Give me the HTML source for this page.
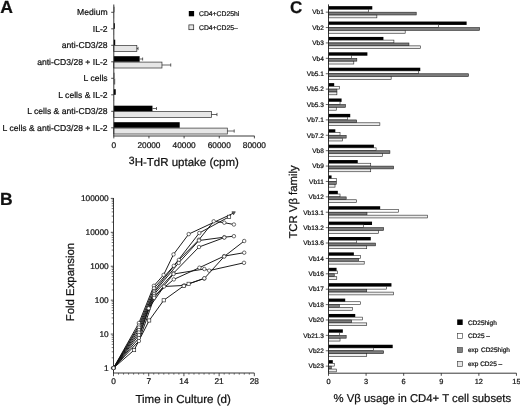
<!DOCTYPE html><html><head><meta charset="utf-8"><title>Figure</title>
<style>html,body{margin:0;padding:0;background:#fff}svg{display:block}text{text-rendering:geometricPrecision;stroke:#111;stroke-width:0.22px;font-family:"Liberation Sans",Arial,Helvetica,sans-serif;fill:#111}</style></head><body>
<svg width="520" height="407" viewBox="0 0 520 407">
<rect width="520" height="407" fill="#fff"/>
<text x="0.30" y="12.80" font-size="17.6" text-anchor="start" font-weight="bold" >A</text>
<text x="0.00" y="204.80" font-size="17.5" text-anchor="start" font-weight="bold" >B</text>
<text x="289.90" y="12.70" font-size="17" text-anchor="start" font-weight="bold" >C</text>
<text x="107.60" y="15.30" font-size="8.6" text-anchor="end" font-weight="normal" >Medium</text>
<line x1="111.20" y1="12.30" x2="113.80" y2="12.30" stroke="#222" stroke-width="0.8"/>
<rect x="113.80" y="6.70" width="0.53" height="5.60" fill="#000"/>
<rect x="113.80" y="12.60" width="0.26" height="5.90" fill="#777"/>
<text x="107.60" y="31.80" font-size="8.6" text-anchor="end" font-weight="normal" >IL-2</text>
<line x1="111.20" y1="28.80" x2="113.80" y2="28.80" stroke="#222" stroke-width="0.8"/>
<rect x="113.80" y="23.20" width="1.05" height="5.60" fill="#000"/>
<rect x="113.80" y="29.10" width="0.26" height="5.90" fill="#777"/>
<text x="107.60" y="48.30" font-size="8.6" text-anchor="end" font-weight="normal" >anti-CD3/28</text>
<line x1="111.20" y1="45.30" x2="113.80" y2="45.30" stroke="#222" stroke-width="0.8"/>
<rect x="113.80" y="39.70" width="1.41" height="5.60" fill="#000"/>
<rect x="113.80" y="45.60" width="23.02" height="5.90" fill="#e6e6e6" stroke="#3a3a3a" stroke-width="0.75"/>
<line x1="136.82" y1="48.50" x2="138.05" y2="48.50" stroke="#222" stroke-width="0.7"/>
<line x1="138.05" y1="46.90" x2="138.05" y2="50.10" stroke="#222" stroke-width="0.7"/>
<text x="107.60" y="64.80" font-size="8.6" text-anchor="end" font-weight="normal" >anti-CD3/28 + IL-2</text>
<line x1="111.20" y1="61.80" x2="113.80" y2="61.80" stroke="#222" stroke-width="0.8"/>
<rect x="113.80" y="56.20" width="25.84" height="5.60" fill="#000"/>
<line x1="139.64" y1="59.00" x2="142.62" y2="59.00" stroke="#222" stroke-width="0.7"/>
<line x1="142.62" y1="57.50" x2="142.62" y2="60.50" stroke="#222" stroke-width="0.7"/>
<rect x="113.80" y="62.10" width="48.16" height="5.90" fill="#e6e6e6" stroke="#3a3a3a" stroke-width="0.75"/>
<line x1="161.96" y1="65.00" x2="170.74" y2="65.00" stroke="#222" stroke-width="0.7"/>
<line x1="170.74" y1="63.40" x2="170.74" y2="66.60" stroke="#222" stroke-width="0.7"/>
<text x="107.60" y="81.30" font-size="8.6" text-anchor="end" font-weight="normal" >L cells</text>
<line x1="111.20" y1="78.30" x2="113.80" y2="78.30" stroke="#222" stroke-width="0.8"/>
<rect x="113.80" y="72.70" width="0.53" height="5.60" fill="#000"/>
<rect x="113.80" y="78.60" width="1.41" height="5.90" fill="#777"/>
<text x="107.60" y="97.80" font-size="8.6" text-anchor="end" font-weight="normal" >L cells &amp; IL-2</text>
<line x1="111.20" y1="94.80" x2="113.80" y2="94.80" stroke="#222" stroke-width="0.8"/>
<rect x="113.80" y="89.20" width="1.93" height="5.60" fill="#000"/>
<rect x="113.80" y="95.10" width="0.26" height="5.90" fill="#777"/>
<text x="107.60" y="114.30" font-size="8.6" text-anchor="end" font-weight="normal" >L cells &amp; anti-CD3/28</text>
<line x1="111.20" y1="111.30" x2="113.80" y2="111.30" stroke="#222" stroke-width="0.8"/>
<rect x="113.80" y="105.70" width="38.66" height="5.60" fill="#000"/>
<line x1="152.47" y1="108.50" x2="156.51" y2="108.50" stroke="#222" stroke-width="0.7"/>
<line x1="156.51" y1="107.00" x2="156.51" y2="110.00" stroke="#222" stroke-width="0.7"/>
<rect x="113.80" y="111.60" width="97.72" height="5.90" fill="#e6e6e6" stroke="#3a3a3a" stroke-width="0.75"/>
<line x1="211.52" y1="114.50" x2="216.97" y2="114.50" stroke="#222" stroke-width="0.7"/>
<line x1="216.97" y1="112.90" x2="216.97" y2="116.10" stroke="#222" stroke-width="0.7"/>
<text x="107.60" y="130.80" font-size="8.6" text-anchor="end" font-weight="normal" >L cells &amp; anti-CD3/28 + IL-2</text>
<line x1="111.20" y1="127.80" x2="113.80" y2="127.80" stroke="#222" stroke-width="0.8"/>
<rect x="113.80" y="122.20" width="65.91" height="5.60" fill="#000"/>
<rect x="113.80" y="128.10" width="113.53" height="5.90" fill="#e6e6e6" stroke="#3a3a3a" stroke-width="0.75"/>
<line x1="227.33" y1="131.00" x2="234.19" y2="131.00" stroke="#222" stroke-width="0.7"/>
<line x1="234.19" y1="129.40" x2="234.19" y2="132.60" stroke="#222" stroke-width="0.7"/>
<line x1="113.80" y1="4.50" x2="113.80" y2="136.00" stroke="#222" stroke-width="0.9"/>
<line x1="113.35" y1="136.00" x2="254.60" y2="136.00" stroke="#222" stroke-width="0.9"/>
<line x1="113.80" y1="136.00" x2="113.80" y2="138.40" stroke="#222" stroke-width="0.8"/>
<text x="113.80" y="147.90" font-size="8.3" text-anchor="middle" font-weight="normal" >0</text>
<line x1="148.95" y1="136.00" x2="148.95" y2="138.40" stroke="#222" stroke-width="0.8"/>
<text x="148.95" y="147.90" font-size="8.3" text-anchor="middle" font-weight="normal" >20000</text>
<line x1="184.10" y1="136.00" x2="184.10" y2="138.40" stroke="#222" stroke-width="0.8"/>
<text x="184.10" y="147.90" font-size="8.3" text-anchor="middle" font-weight="normal" >40000</text>
<line x1="219.25" y1="136.00" x2="219.25" y2="138.40" stroke="#222" stroke-width="0.8"/>
<text x="219.25" y="147.90" font-size="8.3" text-anchor="middle" font-weight="normal" >60000</text>
<line x1="254.40" y1="136.00" x2="254.40" y2="138.40" stroke="#222" stroke-width="0.8"/>
<text x="254.40" y="147.90" font-size="8.3" text-anchor="middle" font-weight="normal" >80000</text>
<text x="128.8" y="166.2" font-size="11.5"><tspan font-size="10.5" dy="-2.2">3</tspan><tspan dy="2.2">H-TdR uptake (cpm)</tspan></text>
<rect x="188.80" y="11.00" width="5.30" height="5.30" fill="#000"/>
<text x="199.00" y="16.40" font-size="6.8" text-anchor="start" font-weight="normal" >CD4+CD25hi</text>
<rect x="188.90" y="24.90" width="4.80" height="4.80" fill="#e6e6e6" stroke="#222" stroke-width="0.7"/>
<text x="199.00" y="29.90" font-size="6.8" text-anchor="start" font-weight="normal" >CD4+CD25–</text>
<line x1="113.50" y1="198.00" x2="113.50" y2="373.00" stroke="#222" stroke-width="0.9"/>
<line x1="113.05" y1="373.00" x2="254.34" y2="373.00" stroke="#222" stroke-width="0.9"/>
<line x1="110.80" y1="368.00" x2="113.50" y2="368.00" stroke="#222" stroke-width="0.8"/>
<text x="108.70" y="370.60" font-size="8.3" text-anchor="end" font-weight="normal" >1</text>
<line x1="111.70" y1="357.79" x2="113.50" y2="357.79" stroke="#222" stroke-width="0.6"/>
<line x1="111.70" y1="351.82" x2="113.50" y2="351.82" stroke="#222" stroke-width="0.6"/>
<line x1="111.70" y1="347.58" x2="113.50" y2="347.58" stroke="#222" stroke-width="0.6"/>
<line x1="111.70" y1="344.29" x2="113.50" y2="344.29" stroke="#222" stroke-width="0.6"/>
<line x1="111.70" y1="341.61" x2="113.50" y2="341.61" stroke="#222" stroke-width="0.6"/>
<line x1="111.70" y1="339.33" x2="113.50" y2="339.33" stroke="#222" stroke-width="0.6"/>
<line x1="111.70" y1="337.37" x2="113.50" y2="337.37" stroke="#222" stroke-width="0.6"/>
<line x1="111.70" y1="335.63" x2="113.50" y2="335.63" stroke="#222" stroke-width="0.6"/>
<line x1="110.80" y1="334.08" x2="113.50" y2="334.08" stroke="#222" stroke-width="0.8"/>
<text x="108.70" y="336.68" font-size="8.3" text-anchor="end" font-weight="normal" >10</text>
<line x1="111.70" y1="323.87" x2="113.50" y2="323.87" stroke="#222" stroke-width="0.6"/>
<line x1="111.70" y1="317.90" x2="113.50" y2="317.90" stroke="#222" stroke-width="0.6"/>
<line x1="111.70" y1="313.66" x2="113.50" y2="313.66" stroke="#222" stroke-width="0.6"/>
<line x1="111.70" y1="310.37" x2="113.50" y2="310.37" stroke="#222" stroke-width="0.6"/>
<line x1="111.70" y1="307.69" x2="113.50" y2="307.69" stroke="#222" stroke-width="0.6"/>
<line x1="111.70" y1="305.41" x2="113.50" y2="305.41" stroke="#222" stroke-width="0.6"/>
<line x1="111.70" y1="303.45" x2="113.50" y2="303.45" stroke="#222" stroke-width="0.6"/>
<line x1="111.70" y1="301.71" x2="113.50" y2="301.71" stroke="#222" stroke-width="0.6"/>
<line x1="110.80" y1="300.16" x2="113.50" y2="300.16" stroke="#222" stroke-width="0.8"/>
<text x="108.70" y="302.76" font-size="8.3" text-anchor="end" font-weight="normal" >100</text>
<line x1="111.70" y1="289.95" x2="113.50" y2="289.95" stroke="#222" stroke-width="0.6"/>
<line x1="111.70" y1="283.98" x2="113.50" y2="283.98" stroke="#222" stroke-width="0.6"/>
<line x1="111.70" y1="279.74" x2="113.50" y2="279.74" stroke="#222" stroke-width="0.6"/>
<line x1="111.70" y1="276.45" x2="113.50" y2="276.45" stroke="#222" stroke-width="0.6"/>
<line x1="111.70" y1="273.77" x2="113.50" y2="273.77" stroke="#222" stroke-width="0.6"/>
<line x1="111.70" y1="271.49" x2="113.50" y2="271.49" stroke="#222" stroke-width="0.6"/>
<line x1="111.70" y1="269.53" x2="113.50" y2="269.53" stroke="#222" stroke-width="0.6"/>
<line x1="111.70" y1="267.79" x2="113.50" y2="267.79" stroke="#222" stroke-width="0.6"/>
<line x1="110.80" y1="266.24" x2="113.50" y2="266.24" stroke="#222" stroke-width="0.8"/>
<text x="108.70" y="268.84" font-size="8.3" text-anchor="end" font-weight="normal" >1000</text>
<line x1="111.70" y1="256.03" x2="113.50" y2="256.03" stroke="#222" stroke-width="0.6"/>
<line x1="111.70" y1="250.06" x2="113.50" y2="250.06" stroke="#222" stroke-width="0.6"/>
<line x1="111.70" y1="245.82" x2="113.50" y2="245.82" stroke="#222" stroke-width="0.6"/>
<line x1="111.70" y1="242.53" x2="113.50" y2="242.53" stroke="#222" stroke-width="0.6"/>
<line x1="111.70" y1="239.85" x2="113.50" y2="239.85" stroke="#222" stroke-width="0.6"/>
<line x1="111.70" y1="237.57" x2="113.50" y2="237.57" stroke="#222" stroke-width="0.6"/>
<line x1="111.70" y1="235.61" x2="113.50" y2="235.61" stroke="#222" stroke-width="0.6"/>
<line x1="111.70" y1="233.87" x2="113.50" y2="233.87" stroke="#222" stroke-width="0.6"/>
<line x1="110.80" y1="232.32" x2="113.50" y2="232.32" stroke="#222" stroke-width="0.8"/>
<text x="108.70" y="234.92" font-size="8.3" text-anchor="end" font-weight="normal" >10000</text>
<line x1="111.70" y1="222.11" x2="113.50" y2="222.11" stroke="#222" stroke-width="0.6"/>
<line x1="111.70" y1="216.14" x2="113.50" y2="216.14" stroke="#222" stroke-width="0.6"/>
<line x1="111.70" y1="211.90" x2="113.50" y2="211.90" stroke="#222" stroke-width="0.6"/>
<line x1="111.70" y1="208.61" x2="113.50" y2="208.61" stroke="#222" stroke-width="0.6"/>
<line x1="111.70" y1="205.93" x2="113.50" y2="205.93" stroke="#222" stroke-width="0.6"/>
<line x1="111.70" y1="203.65" x2="113.50" y2="203.65" stroke="#222" stroke-width="0.6"/>
<line x1="111.70" y1="201.69" x2="113.50" y2="201.69" stroke="#222" stroke-width="0.6"/>
<line x1="111.70" y1="199.95" x2="113.50" y2="199.95" stroke="#222" stroke-width="0.6"/>
<line x1="110.80" y1="198.40" x2="113.50" y2="198.40" stroke="#222" stroke-width="0.8"/>
<text x="108.70" y="201.00" font-size="8.3" text-anchor="end" font-weight="normal" >100000</text>
<line x1="113.50" y1="373.00" x2="113.50" y2="376.20" stroke="#222" stroke-width="0.8"/>
<text x="113.50" y="384.10" font-size="8.3" text-anchor="middle" font-weight="normal" >0</text>
<line x1="118.53" y1="373.00" x2="118.53" y2="374.70" stroke="#222" stroke-width="0.6"/>
<line x1="123.56" y1="373.00" x2="123.56" y2="374.70" stroke="#222" stroke-width="0.6"/>
<line x1="128.59" y1="373.00" x2="128.59" y2="374.70" stroke="#222" stroke-width="0.6"/>
<line x1="133.62" y1="373.00" x2="133.62" y2="374.70" stroke="#222" stroke-width="0.6"/>
<line x1="138.65" y1="373.00" x2="138.65" y2="374.70" stroke="#222" stroke-width="0.6"/>
<line x1="143.68" y1="373.00" x2="143.68" y2="374.70" stroke="#222" stroke-width="0.6"/>
<line x1="148.71" y1="373.00" x2="148.71" y2="376.20" stroke="#222" stroke-width="0.8"/>
<text x="148.71" y="384.10" font-size="8.3" text-anchor="middle" font-weight="normal" >7</text>
<line x1="153.74" y1="373.00" x2="153.74" y2="374.70" stroke="#222" stroke-width="0.6"/>
<line x1="158.77" y1="373.00" x2="158.77" y2="374.70" stroke="#222" stroke-width="0.6"/>
<line x1="163.80" y1="373.00" x2="163.80" y2="374.70" stroke="#222" stroke-width="0.6"/>
<line x1="168.83" y1="373.00" x2="168.83" y2="374.70" stroke="#222" stroke-width="0.6"/>
<line x1="173.86" y1="373.00" x2="173.86" y2="374.70" stroke="#222" stroke-width="0.6"/>
<line x1="178.89" y1="373.00" x2="178.89" y2="374.70" stroke="#222" stroke-width="0.6"/>
<line x1="183.92" y1="373.00" x2="183.92" y2="376.20" stroke="#222" stroke-width="0.8"/>
<text x="183.92" y="384.10" font-size="8.3" text-anchor="middle" font-weight="normal" >14</text>
<line x1="188.95" y1="373.00" x2="188.95" y2="374.70" stroke="#222" stroke-width="0.6"/>
<line x1="193.98" y1="373.00" x2="193.98" y2="374.70" stroke="#222" stroke-width="0.6"/>
<line x1="199.01" y1="373.00" x2="199.01" y2="374.70" stroke="#222" stroke-width="0.6"/>
<line x1="204.04" y1="373.00" x2="204.04" y2="374.70" stroke="#222" stroke-width="0.6"/>
<line x1="209.07" y1="373.00" x2="209.07" y2="374.70" stroke="#222" stroke-width="0.6"/>
<line x1="214.10" y1="373.00" x2="214.10" y2="374.70" stroke="#222" stroke-width="0.6"/>
<line x1="219.13" y1="373.00" x2="219.13" y2="376.20" stroke="#222" stroke-width="0.8"/>
<text x="219.13" y="384.10" font-size="8.3" text-anchor="middle" font-weight="normal" >21</text>
<line x1="224.16" y1="373.00" x2="224.16" y2="374.70" stroke="#222" stroke-width="0.6"/>
<line x1="229.19" y1="373.00" x2="229.19" y2="374.70" stroke="#222" stroke-width="0.6"/>
<line x1="234.22" y1="373.00" x2="234.22" y2="374.70" stroke="#222" stroke-width="0.6"/>
<line x1="239.25" y1="373.00" x2="239.25" y2="374.70" stroke="#222" stroke-width="0.6"/>
<line x1="244.28" y1="373.00" x2="244.28" y2="374.70" stroke="#222" stroke-width="0.6"/>
<line x1="249.31" y1="373.00" x2="249.31" y2="374.70" stroke="#222" stroke-width="0.6"/>
<line x1="254.34" y1="373.00" x2="254.34" y2="376.20" stroke="#222" stroke-width="0.8"/>
<text x="254.34" y="384.10" font-size="8.3" text-anchor="middle" font-weight="normal" >28</text>
<text x="135.40" y="402.70" font-size="11.58" text-anchor="start" font-weight="normal" >Time in Culture (d)</text>
<text transform="translate(74.3,321.2) rotate(-90)" font-size="11.36">Fold Expansion</text>
<polyline fill="none" stroke="#111" stroke-width="0.95" points="113.5,368.0 138.9,323.0 153.9,285.8 163.6,274.9 173.5,254.4 188.7,234.1 233.6,213.1"/>
<polyline fill="none" stroke="#111" stroke-width="0.95" points="113.5,368.0 138.9,325.5 154.0,288.3 173.8,265.8 199.3,233.0 229.1,216.8"/>
<polyline fill="none" stroke="#111" stroke-width="0.95" points="113.5,368.0 138.9,327.5 154.1,291.0 178.9,259.9 199.0,239.7 213.7,221.3 224.3,222.7 233.9,224.5"/>
<polyline fill="none" stroke="#111" stroke-width="0.95" points="113.5,368.0 138.9,330.0 154.1,292.5 178.7,262.9 199.0,240.5 224.3,237.2 233.9,236.2"/>
<polyline fill="none" stroke="#111" stroke-width="0.95" points="113.5,368.0 138.9,332.5 154.1,294.1 173.5,273.2 199.0,247.0 224.3,237.6"/>
<polyline fill="none" stroke="#111" stroke-width="0.95" points="113.5,368.0 138.9,335.0 154.1,296.0 173.8,279.4 199.4,267.7 224.2,256.1 244.2,252.7"/>
<polyline fill="none" stroke="#111" stroke-width="0.95" points="113.5,368.0 138.9,338.0 148.7,308.3 164.0,286.5 184.3,285.4 204.3,278.5 224.2,256.5 244.2,241.0"/>
<polyline fill="none" stroke="#111" stroke-width="0.95" points="113.5,368.0 138.9,341.0 154.1,297.8 173.5,274.0 204.3,269.0 209.2,270.6 244.0,262.8"/>
<polyline fill="none" stroke="#111" stroke-width="0.95" points="113.5,368.0 134.1,350.1 149.2,320.5 163.7,300.3 183.7,285.9 188.6,283.8 204.3,278.3"/>
<circle cx="113.5" cy="368.0" r="1.75" fill="#fff" stroke="#222" stroke-width="0.65"/>
<circle cx="138.9" cy="323.0" r="1.75" fill="#fff" stroke="#222" stroke-width="0.65"/>
<circle cx="153.9" cy="285.8" r="1.75" fill="#fff" stroke="#222" stroke-width="0.65"/>
<circle cx="163.6" cy="274.9" r="1.75" fill="#fff" stroke="#222" stroke-width="0.65"/>
<circle cx="173.5" cy="254.4" r="1.75" fill="#fff" stroke="#222" stroke-width="0.65"/>
<circle cx="188.7" cy="234.1" r="1.75" fill="#fff" stroke="#222" stroke-width="0.65"/>
<path d="M231.9 211.8h3.4l-1.7 2.9z" fill="#666" stroke="#222" stroke-width="0.65"/>
<circle cx="113.5" cy="368.0" r="1.75" fill="#fff" stroke="#222" stroke-width="0.65"/>
<circle cx="138.9" cy="325.5" r="1.75" fill="#fff" stroke="#222" stroke-width="0.65"/>
<circle cx="154.0" cy="288.3" r="1.75" fill="#fff" stroke="#222" stroke-width="0.65"/>
<circle cx="173.8" cy="265.8" r="1.75" fill="#fff" stroke="#222" stroke-width="0.65"/>
<circle cx="199.3" cy="233.0" r="1.75" fill="#fff" stroke="#222" stroke-width="0.65"/>
<rect x="227.5" y="215.2" width="3.2" height="3.2" fill="#fff" stroke="#222" stroke-width="0.65"/>
<circle cx="113.5" cy="368.0" r="1.75" fill="#fff" stroke="#222" stroke-width="0.65"/>
<circle cx="138.9" cy="327.5" r="1.75" fill="#fff" stroke="#222" stroke-width="0.65"/>
<circle cx="154.1" cy="291.0" r="1.75" fill="#fff" stroke="#222" stroke-width="0.65"/>
<circle cx="178.9" cy="259.9" r="1.75" fill="#fff" stroke="#222" stroke-width="0.65"/>
<circle cx="199.0" cy="239.7" r="1.75" fill="#fff" stroke="#222" stroke-width="0.65"/>
<circle cx="213.7" cy="221.3" r="1.75" fill="#fff" stroke="#222" stroke-width="0.65"/>
<circle cx="224.3" cy="222.7" r="1.75" fill="#fff" stroke="#222" stroke-width="0.65"/>
<circle cx="233.9" cy="224.5" r="1.75" fill="#fff" stroke="#222" stroke-width="0.65"/>
<circle cx="113.5" cy="368.0" r="1.75" fill="#fff" stroke="#222" stroke-width="0.65"/>
<circle cx="138.9" cy="330.0" r="1.75" fill="#fff" stroke="#222" stroke-width="0.65"/>
<circle cx="154.1" cy="292.5" r="1.75" fill="#fff" stroke="#222" stroke-width="0.65"/>
<circle cx="178.7" cy="262.9" r="1.75" fill="#fff" stroke="#222" stroke-width="0.65"/>
<circle cx="199.0" cy="240.5" r="1.75" fill="#fff" stroke="#222" stroke-width="0.65"/>
<circle cx="224.3" cy="237.2" r="1.75" fill="#fff" stroke="#222" stroke-width="0.65"/>
<circle cx="233.9" cy="236.2" r="1.75" fill="#fff" stroke="#222" stroke-width="0.65"/>
<circle cx="113.5" cy="368.0" r="1.75" fill="#fff" stroke="#222" stroke-width="0.65"/>
<circle cx="138.9" cy="332.5" r="1.75" fill="#fff" stroke="#222" stroke-width="0.65"/>
<circle cx="154.1" cy="294.1" r="1.75" fill="#fff" stroke="#222" stroke-width="0.65"/>
<circle cx="173.5" cy="273.2" r="1.75" fill="#fff" stroke="#222" stroke-width="0.65"/>
<circle cx="199.0" cy="247.0" r="1.75" fill="#fff" stroke="#222" stroke-width="0.65"/>
<circle cx="224.3" cy="237.6" r="1.75" fill="#fff" stroke="#222" stroke-width="0.65"/>
<circle cx="113.5" cy="368.0" r="1.75" fill="#fff" stroke="#222" stroke-width="0.65"/>
<circle cx="138.9" cy="335.0" r="1.75" fill="#fff" stroke="#222" stroke-width="0.65"/>
<circle cx="154.1" cy="296.0" r="1.75" fill="#fff" stroke="#222" stroke-width="0.65"/>
<circle cx="173.8" cy="279.4" r="1.75" fill="#fff" stroke="#222" stroke-width="0.65"/>
<circle cx="199.4" cy="267.7" r="1.75" fill="#fff" stroke="#222" stroke-width="0.65"/>
<circle cx="224.2" cy="256.1" r="1.75" fill="#fff" stroke="#222" stroke-width="0.65"/>
<circle cx="244.2" cy="252.7" r="1.75" fill="#fff" stroke="#222" stroke-width="0.65"/>
<circle cx="113.5" cy="368.0" r="1.75" fill="#fff" stroke="#222" stroke-width="0.65"/>
<circle cx="138.9" cy="338.0" r="1.75" fill="#fff" stroke="#222" stroke-width="0.65"/>
<circle cx="148.7" cy="308.3" r="1.75" fill="#fff" stroke="#222" stroke-width="0.65"/>
<circle cx="164.0" cy="286.5" r="1.75" fill="#fff" stroke="#222" stroke-width="0.65"/>
<circle cx="184.3" cy="285.4" r="1.75" fill="#fff" stroke="#222" stroke-width="0.65"/>
<circle cx="204.3" cy="278.5" r="1.75" fill="#fff" stroke="#222" stroke-width="0.65"/>
<circle cx="224.2" cy="256.5" r="1.75" fill="#fff" stroke="#222" stroke-width="0.65"/>
<circle cx="244.2" cy="241.0" r="1.75" fill="#fff" stroke="#222" stroke-width="0.65"/>
<circle cx="113.5" cy="368.0" r="1.75" fill="#fff" stroke="#222" stroke-width="0.65"/>
<circle cx="138.9" cy="341.0" r="1.75" fill="#fff" stroke="#222" stroke-width="0.65"/>
<circle cx="154.1" cy="297.8" r="1.75" fill="#fff" stroke="#222" stroke-width="0.65"/>
<circle cx="173.5" cy="274.0" r="1.75" fill="#fff" stroke="#222" stroke-width="0.65"/>
<circle cx="204.3" cy="269.0" r="1.75" fill="#fff" stroke="#222" stroke-width="0.65"/>
<circle cx="209.2" cy="270.6" r="1.75" fill="#fff" stroke="#222" stroke-width="0.65"/>
<circle cx="244.0" cy="262.8" r="1.75" fill="#fff" stroke="#222" stroke-width="0.65"/>
<circle cx="113.5" cy="368.0" r="1.75" fill="#fff" stroke="#222" stroke-width="0.65"/>
<rect x="132.5" y="348.5" width="3.2" height="3.2" fill="#fff" stroke="#222" stroke-width="0.65"/>
<rect x="147.6" y="318.9" width="3.2" height="3.2" fill="#fff" stroke="#222" stroke-width="0.65"/>
<rect x="162.1" y="298.7" width="3.2" height="3.2" fill="#fff" stroke="#222" stroke-width="0.65"/>
<rect x="182.1" y="284.3" width="3.2" height="3.2" fill="#fff" stroke="#222" stroke-width="0.65"/>
<rect x="187.0" y="282.2" width="3.2" height="3.2" fill="#fff" stroke="#222" stroke-width="0.65"/>
<circle cx="204.3" cy="278.3" r="1.75" fill="#fff" stroke="#222" stroke-width="0.65"/>
<text x="323.80" y="14.45" font-size="6.5" text-anchor="end" font-weight="normal" >Vb1</text>
<line x1="325.80" y1="12.15" x2="328.50" y2="12.15" stroke="#222" stroke-width="0.7"/>
<rect x="328.50" y="6.15" width="43.78" height="3.38" fill="#000"/>
<rect x="328.50" y="9.33" width="39.97" height="2.77" fill="#fff" stroke="#222" stroke-width="0.6"/>
<rect x="328.50" y="12.20" width="87.71" height="2.77" fill="#7c7c7c" stroke="#222" stroke-width="0.6"/>
<rect x="328.50" y="15.08" width="48.37" height="2.77" fill="#ededed" stroke="#222" stroke-width="0.6"/>
<text x="323.80" y="29.84" font-size="6.5" text-anchor="end" font-weight="normal" >Vb2</text>
<line x1="325.80" y1="27.54" x2="328.50" y2="27.54" stroke="#222" stroke-width="0.7"/>
<rect x="328.50" y="21.54" width="138.13" height="3.38" fill="#000"/>
<rect x="328.50" y="24.72" width="110.14" height="2.77" fill="#fff" stroke="#222" stroke-width="0.6"/>
<rect x="328.50" y="27.59" width="151.11" height="2.77" fill="#7c7c7c" stroke="#222" stroke-width="0.6"/>
<rect x="328.50" y="30.47" width="76.68" height="2.77" fill="#ededed" stroke="#222" stroke-width="0.6"/>
<text x="323.80" y="45.23" font-size="6.5" text-anchor="end" font-weight="normal" >Vb3</text>
<line x1="325.80" y1="42.93" x2="328.50" y2="42.93" stroke="#222" stroke-width="0.7"/>
<rect x="328.50" y="36.93" width="54.93" height="3.38" fill="#000"/>
<rect x="328.50" y="40.11" width="65.41" height="2.77" fill="#fff" stroke="#222" stroke-width="0.6"/>
<rect x="328.50" y="42.98" width="80.44" height="2.77" fill="#7c7c7c" stroke="#222" stroke-width="0.6"/>
<rect x="328.50" y="45.86" width="91.84" height="2.77" fill="#ededed" stroke="#222" stroke-width="0.6"/>
<text x="323.80" y="60.62" font-size="6.5" text-anchor="end" font-weight="normal" >Vb4</text>
<line x1="325.80" y1="58.32" x2="328.50" y2="58.32" stroke="#222" stroke-width="0.7"/>
<rect x="328.50" y="52.32" width="38.89" height="3.38" fill="#000"/>
<rect x="328.50" y="55.50" width="22.80" height="2.77" fill="#fff" stroke="#222" stroke-width="0.6"/>
<rect x="328.50" y="58.37" width="28.32" height="2.77" fill="#7c7c7c" stroke="#222" stroke-width="0.6"/>
<rect x="328.50" y="61.25" width="25.31" height="2.77" fill="#ededed" stroke="#222" stroke-width="0.6"/>
<text x="323.80" y="76.01" font-size="6.5" text-anchor="end" font-weight="normal" >Vb5.1</text>
<line x1="325.80" y1="73.71" x2="328.50" y2="73.71" stroke="#222" stroke-width="0.7"/>
<rect x="328.50" y="67.71" width="91.77" height="3.38" fill="#000"/>
<rect x="328.50" y="70.89" width="90.22" height="2.77" fill="#fff" stroke="#222" stroke-width="0.6"/>
<rect x="328.50" y="73.76" width="139.96" height="2.77" fill="#7c7c7c" stroke="#222" stroke-width="0.6"/>
<rect x="328.50" y="76.64" width="62.65" height="2.77" fill="#ededed" stroke="#222" stroke-width="0.6"/>
<text x="323.80" y="91.41" font-size="6.5" text-anchor="end" font-weight="normal" >Vb5.2</text>
<line x1="325.80" y1="89.11" x2="328.50" y2="89.11" stroke="#222" stroke-width="0.7"/>
<rect x="328.50" y="83.11" width="5.69" height="3.38" fill="#000"/>
<rect x="328.50" y="86.28" width="10.78" height="2.77" fill="#fff" stroke="#222" stroke-width="0.6"/>
<rect x="328.50" y="89.16" width="8.40" height="2.77" fill="#7c7c7c" stroke="#222" stroke-width="0.6"/>
<rect x="328.50" y="92.03" width="8.40" height="2.77" fill="#ededed" stroke="#222" stroke-width="0.6"/>
<text x="323.80" y="106.80" font-size="6.5" text-anchor="end" font-weight="normal" >Vb5.3</text>
<line x1="325.80" y1="104.50" x2="328.50" y2="104.50" stroke="#222" stroke-width="0.7"/>
<rect x="328.50" y="98.50" width="13.08" height="3.38" fill="#000"/>
<rect x="328.50" y="101.67" width="11.53" height="2.77" fill="#fff" stroke="#222" stroke-width="0.6"/>
<rect x="328.50" y="104.55" width="16.92" height="2.77" fill="#7c7c7c" stroke="#222" stroke-width="0.6"/>
<rect x="328.50" y="107.42" width="7.77" height="2.77" fill="#ededed" stroke="#222" stroke-width="0.6"/>
<text x="323.80" y="122.19" font-size="6.5" text-anchor="end" font-weight="normal" >Vb7.1</text>
<line x1="325.80" y1="119.89" x2="328.50" y2="119.89" stroke="#222" stroke-width="0.7"/>
<rect x="328.50" y="113.89" width="21.73" height="3.38" fill="#000"/>
<rect x="328.50" y="117.06" width="18.92" height="2.77" fill="#fff" stroke="#222" stroke-width="0.6"/>
<rect x="328.50" y="119.94" width="28.19" height="2.77" fill="#7c7c7c" stroke="#222" stroke-width="0.6"/>
<rect x="328.50" y="122.81" width="51.37" height="2.77" fill="#ededed" stroke="#222" stroke-width="0.6"/>
<text x="323.80" y="137.58" font-size="6.5" text-anchor="end" font-weight="normal" >Vb7.2</text>
<line x1="325.80" y1="135.28" x2="328.50" y2="135.28" stroke="#222" stroke-width="0.7"/>
<rect x="328.50" y="129.28" width="6.82" height="3.38" fill="#000"/>
<rect x="328.50" y="132.45" width="11.53" height="2.77" fill="#fff" stroke="#222" stroke-width="0.6"/>
<rect x="328.50" y="135.33" width="17.67" height="2.77" fill="#7c7c7c" stroke="#222" stroke-width="0.6"/>
<rect x="328.50" y="138.20" width="14.03" height="2.77" fill="#ededed" stroke="#222" stroke-width="0.6"/>
<text x="323.80" y="152.97" font-size="6.5" text-anchor="end" font-weight="normal" >Vb8</text>
<line x1="325.80" y1="150.67" x2="328.50" y2="150.67" stroke="#222" stroke-width="0.7"/>
<rect x="328.50" y="144.67" width="45.41" height="3.38" fill="#000"/>
<rect x="328.50" y="147.84" width="47.61" height="2.77" fill="#fff" stroke="#222" stroke-width="0.6"/>
<rect x="328.50" y="150.72" width="61.40" height="2.77" fill="#7c7c7c" stroke="#222" stroke-width="0.6"/>
<rect x="328.50" y="153.59" width="53.88" height="2.77" fill="#ededed" stroke="#222" stroke-width="0.6"/>
<text x="323.80" y="168.36" font-size="6.5" text-anchor="end" font-weight="normal" >Vb9</text>
<line x1="325.80" y1="166.06" x2="328.50" y2="166.06" stroke="#222" stroke-width="0.7"/>
<rect x="328.50" y="160.06" width="29.24" height="3.38" fill="#000"/>
<rect x="328.50" y="163.24" width="42.23" height="2.77" fill="#fff" stroke="#222" stroke-width="0.6"/>
<rect x="328.50" y="166.11" width="65.16" height="2.77" fill="#7c7c7c" stroke="#222" stroke-width="0.6"/>
<rect x="328.50" y="168.99" width="42.23" height="2.77" fill="#ededed" stroke="#222" stroke-width="0.6"/>
<text x="323.80" y="183.75" font-size="6.5" text-anchor="end" font-weight="normal" >Vb11</text>
<line x1="325.80" y1="181.45" x2="328.50" y2="181.45" stroke="#222" stroke-width="0.7"/>
<rect x="328.50" y="175.45" width="3.06" height="3.38" fill="#000"/>
<rect x="328.50" y="178.63" width="7.77" height="2.77" fill="#fff" stroke="#222" stroke-width="0.6"/>
<rect x="328.50" y="181.50" width="7.77" height="2.77" fill="#7c7c7c" stroke="#222" stroke-width="0.6"/>
<rect x="328.50" y="184.38" width="6.52" height="2.77" fill="#ededed" stroke="#222" stroke-width="0.6"/>
<text x="323.80" y="199.14" font-size="6.5" text-anchor="end" font-weight="normal" >Vb12</text>
<line x1="325.80" y1="196.84" x2="328.50" y2="196.84" stroke="#222" stroke-width="0.7"/>
<rect x="328.50" y="190.84" width="9.32" height="3.38" fill="#000"/>
<rect x="328.50" y="194.02" width="11.53" height="2.77" fill="#fff" stroke="#222" stroke-width="0.6"/>
<rect x="328.50" y="196.89" width="17.67" height="2.77" fill="#7c7c7c" stroke="#222" stroke-width="0.6"/>
<rect x="328.50" y="199.77" width="28.19" height="2.77" fill="#ededed" stroke="#222" stroke-width="0.6"/>
<text x="323.80" y="214.53" font-size="6.5" text-anchor="end" font-weight="normal" >Vb13.1</text>
<line x1="325.80" y1="212.23" x2="328.50" y2="212.23" stroke="#222" stroke-width="0.7"/>
<rect x="328.50" y="206.23" width="51.67" height="3.38" fill="#000"/>
<rect x="328.50" y="209.41" width="70.17" height="2.77" fill="#fff" stroke="#222" stroke-width="0.6"/>
<rect x="328.50" y="212.28" width="38.47" height="2.77" fill="#7c7c7c" stroke="#222" stroke-width="0.6"/>
<rect x="328.50" y="215.16" width="98.99" height="2.77" fill="#ededed" stroke="#222" stroke-width="0.6"/>
<text x="323.80" y="229.92" font-size="6.5" text-anchor="end" font-weight="normal" >Vb13.2</text>
<line x1="325.80" y1="227.62" x2="328.50" y2="227.62" stroke="#222" stroke-width="0.7"/>
<rect x="328.50" y="221.62" width="43.53" height="3.38" fill="#000"/>
<rect x="328.50" y="224.80" width="35.08" height="2.77" fill="#fff" stroke="#222" stroke-width="0.6"/>
<rect x="328.50" y="227.67" width="55.13" height="2.77" fill="#7c7c7c" stroke="#222" stroke-width="0.6"/>
<rect x="328.50" y="230.55" width="50.12" height="2.77" fill="#ededed" stroke="#222" stroke-width="0.6"/>
<text x="323.80" y="245.32" font-size="6.5" text-anchor="end" font-weight="normal" >Vb13.6</text>
<line x1="325.80" y1="243.02" x2="328.50" y2="243.02" stroke="#222" stroke-width="0.7"/>
<rect x="328.50" y="237.02" width="42.28" height="3.38" fill="#000"/>
<rect x="328.50" y="240.19" width="28.19" height="2.77" fill="#fff" stroke="#222" stroke-width="0.6"/>
<rect x="328.50" y="243.07" width="46.99" height="2.77" fill="#7c7c7c" stroke="#222" stroke-width="0.6"/>
<rect x="328.50" y="245.94" width="38.22" height="2.77" fill="#ededed" stroke="#222" stroke-width="0.6"/>
<text x="323.80" y="260.71" font-size="6.5" text-anchor="end" font-weight="normal" >Vb14</text>
<line x1="325.80" y1="258.41" x2="328.50" y2="258.41" stroke="#222" stroke-width="0.7"/>
<rect x="328.50" y="252.41" width="25.36" height="3.38" fill="#000"/>
<rect x="328.50" y="255.58" width="31.95" height="2.77" fill="#fff" stroke="#222" stroke-width="0.6"/>
<rect x="328.50" y="258.46" width="30.07" height="2.77" fill="#7c7c7c" stroke="#222" stroke-width="0.6"/>
<rect x="328.50" y="261.33" width="35.71" height="2.77" fill="#ededed" stroke="#222" stroke-width="0.6"/>
<text x="323.80" y="276.10" font-size="6.5" text-anchor="end" font-weight="normal" >Vb16</text>
<line x1="325.80" y1="273.80" x2="328.50" y2="273.80" stroke="#222" stroke-width="0.7"/>
<rect x="328.50" y="267.80" width="8.07" height="3.38" fill="#000"/>
<rect x="328.50" y="270.97" width="9.02" height="2.77" fill="#fff" stroke="#222" stroke-width="0.6"/>
<rect x="328.50" y="273.85" width="5.76" height="2.77" fill="#7c7c7c" stroke="#222" stroke-width="0.6"/>
<rect x="328.50" y="276.72" width="8.27" height="2.77" fill="#ededed" stroke="#222" stroke-width="0.6"/>
<text x="323.80" y="291.49" font-size="6.5" text-anchor="end" font-weight="normal" >Vb17</text>
<line x1="325.80" y1="289.19" x2="328.50" y2="289.19" stroke="#222" stroke-width="0.7"/>
<rect x="328.50" y="283.19" width="62.95" height="3.38" fill="#000"/>
<rect x="328.50" y="286.36" width="58.14" height="2.77" fill="#fff" stroke="#222" stroke-width="0.6"/>
<rect x="328.50" y="289.24" width="38.22" height="2.77" fill="#7c7c7c" stroke="#222" stroke-width="0.6"/>
<rect x="328.50" y="292.11" width="65.16" height="2.77" fill="#ededed" stroke="#222" stroke-width="0.6"/>
<text x="323.80" y="306.88" font-size="6.5" text-anchor="end" font-weight="normal" >Vb18</text>
<line x1="325.80" y1="304.58" x2="328.50" y2="304.58" stroke="#222" stroke-width="0.7"/>
<rect x="328.50" y="298.58" width="16.71" height="3.38" fill="#000"/>
<rect x="328.50" y="301.75" width="31.95" height="2.77" fill="#fff" stroke="#222" stroke-width="0.6"/>
<rect x="328.50" y="304.63" width="10.78" height="2.77" fill="#7c7c7c" stroke="#222" stroke-width="0.6"/>
<rect x="328.50" y="307.50" width="23.93" height="2.77" fill="#ededed" stroke="#222" stroke-width="0.6"/>
<text x="323.80" y="322.27" font-size="6.5" text-anchor="end" font-weight="normal" >Vb20</text>
<line x1="325.80" y1="319.97" x2="328.50" y2="319.97" stroke="#222" stroke-width="0.7"/>
<rect x="328.50" y="313.97" width="26.74" height="3.38" fill="#000"/>
<rect x="328.50" y="317.14" width="33.96" height="2.77" fill="#fff" stroke="#222" stroke-width="0.6"/>
<rect x="328.50" y="320.02" width="23.18" height="2.77" fill="#7c7c7c" stroke="#222" stroke-width="0.6"/>
<rect x="328.50" y="322.89" width="38.22" height="2.77" fill="#ededed" stroke="#222" stroke-width="0.6"/>
<text x="323.80" y="337.66" font-size="6.5" text-anchor="end" font-weight="normal" >Vb21.3</text>
<line x1="325.80" y1="335.36" x2="328.50" y2="335.36" stroke="#222" stroke-width="0.7"/>
<rect x="328.50" y="329.36" width="14.33" height="3.38" fill="#000"/>
<rect x="328.50" y="332.54" width="11.03" height="2.77" fill="#fff" stroke="#222" stroke-width="0.6"/>
<rect x="328.50" y="335.41" width="17.67" height="2.77" fill="#7c7c7c" stroke="#222" stroke-width="0.6"/>
<rect x="328.50" y="338.29" width="11.53" height="2.77" fill="#ededed" stroke="#222" stroke-width="0.6"/>
<text x="323.80" y="353.05" font-size="6.5" text-anchor="end" font-weight="normal" >Vb22</text>
<line x1="325.80" y1="350.75" x2="328.50" y2="350.75" stroke="#222" stroke-width="0.7"/>
<rect x="328.50" y="344.75" width="64.20" height="3.38" fill="#000"/>
<rect x="328.50" y="347.93" width="45.11" height="2.77" fill="#fff" stroke="#222" stroke-width="0.6"/>
<rect x="328.50" y="350.80" width="55.13" height="2.77" fill="#7c7c7c" stroke="#222" stroke-width="0.6"/>
<rect x="328.50" y="353.68" width="38.22" height="2.77" fill="#ededed" stroke="#222" stroke-width="0.6"/>
<text x="323.80" y="368.44" font-size="6.5" text-anchor="end" font-weight="normal" >Vb23</text>
<line x1="325.80" y1="366.14" x2="328.50" y2="366.14" stroke="#222" stroke-width="0.7"/>
<rect x="328.50" y="360.14" width="4.31" height="3.38" fill="#000"/>
<rect x="328.50" y="363.32" width="5.76" height="2.77" fill="#fff" stroke="#222" stroke-width="0.6"/>
<rect x="328.50" y="366.19" width="2.76" height="2.77" fill="#7c7c7c" stroke="#222" stroke-width="0.6"/>
<rect x="328.50" y="369.07" width="7.77" height="2.77" fill="#ededed" stroke="#222" stroke-width="0.6"/>
<line x1="328.50" y1="4.40" x2="328.50" y2="373.20" stroke="#222" stroke-width="0.9"/>
<line x1="328.05" y1="373.20" x2="516.45" y2="373.20" stroke="#222" stroke-width="0.9"/>
<line x1="328.50" y1="373.20" x2="328.50" y2="375.80" stroke="#222" stroke-width="0.8"/>
<text x="328.50" y="384.10" font-size="7.4" text-anchor="middle" font-weight="normal" >0</text>
<line x1="366.09" y1="373.20" x2="366.09" y2="375.80" stroke="#222" stroke-width="0.8"/>
<text x="366.09" y="384.10" font-size="7.4" text-anchor="middle" font-weight="normal" >3</text>
<line x1="403.68" y1="373.20" x2="403.68" y2="375.80" stroke="#222" stroke-width="0.8"/>
<text x="403.68" y="384.10" font-size="7.4" text-anchor="middle" font-weight="normal" >6</text>
<line x1="441.27" y1="373.20" x2="441.27" y2="375.80" stroke="#222" stroke-width="0.8"/>
<text x="441.27" y="384.10" font-size="7.4" text-anchor="middle" font-weight="normal" >9</text>
<line x1="478.86" y1="373.20" x2="478.86" y2="375.80" stroke="#222" stroke-width="0.8"/>
<text x="478.86" y="384.10" font-size="7.4" text-anchor="middle" font-weight="normal" >12</text>
<line x1="516.45" y1="373.20" x2="516.45" y2="375.80" stroke="#222" stroke-width="0.8"/>
<text x="516.45" y="384.10" font-size="7.4" text-anchor="middle" font-weight="normal" >15</text>
<text x="333.50" y="402.40" font-size="11.34" text-anchor="start" font-weight="normal" >% Vβ usage in CD4+ T cell subsets</text>
<text transform="translate(296.9,238.6) rotate(-90)" font-size="11.35">TCR Vβ family</text>
<rect x="457.20" y="319.45" width="5.50" height="5.50" fill="#000"/>
<text x="467.9" y="324.50" font-size="6.5" xml:space="preserve">CD25high</text>
<rect x="457.50" y="333.55" width="4.90" height="4.90" fill="#fff" stroke="#333" stroke-width="0.6"/>
<text x="467.9" y="338.30" font-size="6.5" xml:space="preserve">CD25 –</text>
<rect x="457.50" y="347.65" width="4.90" height="4.90" fill="#808080" stroke="#333" stroke-width="0.6"/>
<text x="467.9" y="352.40" font-size="6.5" xml:space="preserve">exp<tspan dx="2.6">CD25high</tspan></text>
<rect x="457.50" y="361.45" width="4.90" height="4.90" fill="#e6e6e6" stroke="#333" stroke-width="0.6"/>
<text x="467.9" y="366.20" font-size="6.5" xml:space="preserve">exp CD25 –</text>
</svg></body></html>
